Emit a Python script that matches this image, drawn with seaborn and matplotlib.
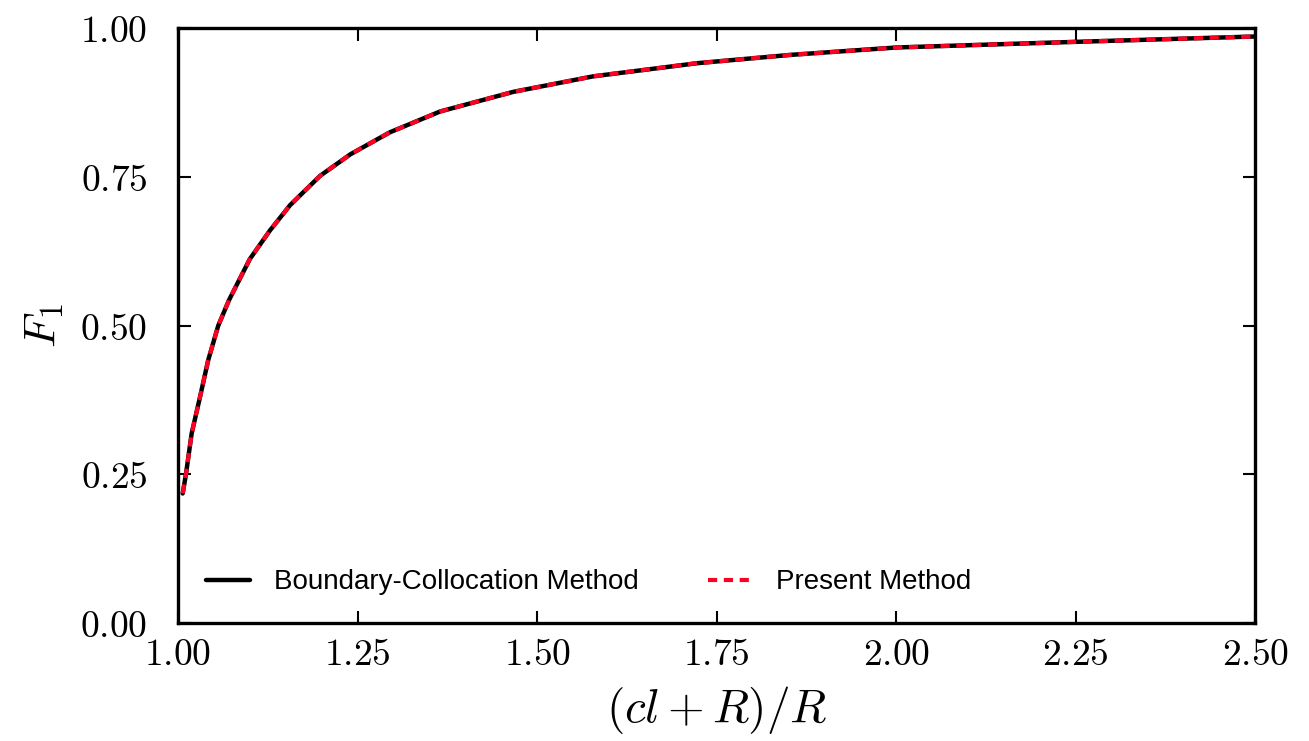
import matplotlib
matplotlib.use("Agg")
import matplotlib.pyplot as plt
import seaborn as sns
import numpy as np
import pandas as pd
from matplotlib.ticker import FuncFormatter, FixedLocator

# Data
gap_ratio = [1.0065, 1.011, 1.019, 1.0306, 1.042, 1.056, 1.071, 1.100, 1.128, 1.156,
             1.198, 1.240, 1.295, 1.365, 1.467, 1.578, 1.722, 1.852, 2.000, 2.250, 2.500]
f1_boundary = [0.218, 0.25, 0.319, 0.380, 0.442, 0.50, 0.543, 0.612, 0.660, 0.7025,
               0.752, 0.788, 0.825, 0.860, 0.893, 0.919, 0.941, 0.955, 0.9675, 0.977, 0.986]
f1_present = [0.218, 0.25, 0.319, 0.380, 0.442, 0.50, 0.543, 0.612, 0.660, 0.7025,
              0.752, 0.788, 0.825, 0.860, 0.893, 0.919, 0.941, 0.955, 0.9675, 0.977, 0.986]
x_ticks = [1.00, 1.25, 1.50, 1.75, 2.00, 2.25, 2.50]
y_ticks = [0.00, 0.25, 0.50, 0.75, 1.00]
series_labels = ["Boundary-Collocation Method", "Present Method"]

sns.set_theme(style="ticks")
plt.rcParams["mathtext.fontset"] = "cm"
plt.rcParams["font.family"] = ["Liberation Sans", "DejaVu Sans"]
plt.rcParams["text.color"] = "black"
plt.rcParams["axes.labelcolor"] = "black"

fig = plt.figure(figsize=(13.09, 7.41), dpi=100)
ax = fig.add_axes([0.136, 0.159, 0.823, 0.803])

df_b = pd.DataFrame({"x": gap_ratio, "y": f1_boundary})
df_p = pd.DataFrame({"x": gap_ratio, "y": f1_present})
sns.lineplot(data=df_b, x="x", y="y", ax=ax, color="black", linewidth=3.2,
             label=series_labels[0], sort=False)
sns.lineplot(data=df_p, x="x", y="y", ax=ax, color="#ff0022", linewidth=3.0,
             linestyle=(0, (2.2, 1.6)), label=series_labels[1], sort=False)

ax.set_xlim(1.0, 2.5)
ax.set_ylim(0.0, 1.0)
ax.xaxis.set_major_locator(FixedLocator(x_ticks))
ax.yaxis.set_major_locator(FixedLocator(y_ticks))
fmt = FuncFormatter(lambda v, p: "$%.2f$" % v)
ax.xaxis.set_major_formatter(fmt)
ax.yaxis.set_major_formatter(fmt)
ax.tick_params(direction="in", length=9, width=1.5, labelsize=27,
               top=True, right=True, colors="black")
ax.tick_params(axis="y", pad=22)
ax.tick_params(axis="x", pad=10)
for s in ax.spines.values():
    s.set_visible(True)
    s.set_linewidth(2.4)
    s.set_color("black")

ax.set_xlabel(r"$(cl+R)/R$", fontsize=34, labelpad=8, color="black")
ax.set_ylabel(r"$F_1$", fontsize=33, labelpad=10, color="black")

leg = ax.legend(loc="lower left", ncol=2, frameon=False, fontsize=20,
                handlelength=1.6, columnspacing=2.5, handletextpad=0.85,
                bbox_to_anchor=(0.0, 0.0), borderaxespad=0.6)
for t in leg.get_texts():
    t.set_color("black")

fig.savefig("out.png", dpi=100)
